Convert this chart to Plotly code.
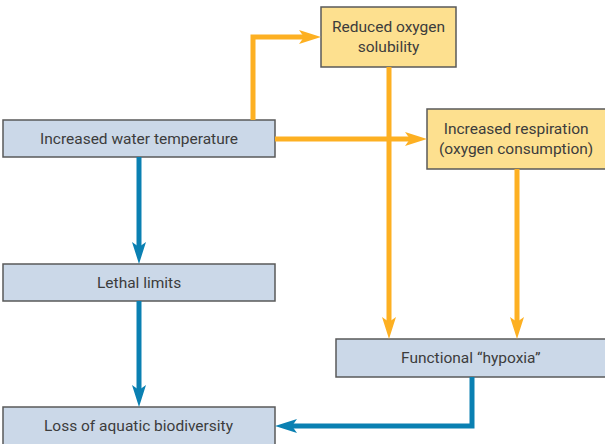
import plotly.graph_objects as go

# box labels and their geometry (pixel units, y measured down from the top)
labels = ["Increased water temperature", "Reduced oxygen<br>solubility",
          "Increased respiration<br>(oxygen consumption)", "Lethal limits",
          "Functional \u201chypoxia\u201d", "Loss of aquatic biodiversity"]
box_x0 = [3, 321, 427, 3, 336, 3]
box_x1 = [275, 456, 607, 275, 607, 275]
box_y0 = [120, 7, 109, 264, 339, 407]
box_y1 = [157, 67, 169, 301, 377, 446]
box_kind = ["blue", "yellow", "yellow", "blue", "blue", "blue"]

# connectors: list of polyline points, last point is the arrow tip
arrows = [
    ("orange", [(253, 120), (253, 37), (321, 37)]),
    ("orange", [(275, 139), (427, 139)]),
    ("orange", [(389, 67), (389, 339)]),
    ("orange", [(517, 169), (517, 339)]),
    ("blue", [(139, 157), (139, 264)]),
    ("blue", [(139, 301), (139, 407)]),
    ("blue", [(472, 377), (472, 426), (275, 426)]),
]

fills = {"blue": "#cbd8e8", "yellow": "#fde08f"}
strokes = {"orange": "#fdb022", "blue": "#0a80b2"}

fig = go.Figure()
shapes = []
annotations = []

for lab, x0, x1, y0, y1, k in zip(labels, box_x0, box_x1, box_y0, box_y1, box_kind):
    shapes.append(dict(type="rect", x0=x0, x1=x1, y0=y0, y1=y1,
                       fillcolor=fills[k], line=dict(color="#5a5a5a", width=1.5), layer="below"))
    annotations.append(dict(x=(x0 + min(x1, 605)) / 2, y=(y0 + min(y1, 444)) / 2, text=lab,
                            showarrow=False, xanchor="center", yanchor="middle",
                            font=dict(family="Roboto, sans-serif", size=15.5, color="#3c3c3c")))

head_len, head_half, notch = 22, 7, 5
for col, pts in arrows:
    (xa, ya), (xb, yb) = pts[-2], pts[-1]
    dx, dy = xb - xa, yb - ya
    L = (dx * dx + dy * dy) ** 0.5
    ux, uy = dx / L, dy / L
    px, py = -uy, ux
    # line stops inside the arrowhead
    line_pts = pts[:-1] + [(xb - ux * (head_len - notch - 1), yb - uy * (head_len - notch - 1))]
    path = "M " + " L ".join(f"{x},{y}" for x, y in line_pts)
    shapes.append(dict(type="path", path=path, line=dict(color=strokes[col], width=5),
                       fillcolor="rgba(0,0,0,0)"))
    bx, by = xb - ux * head_len, yb - uy * head_len
    nx, ny = xb - ux * (head_len - notch), yb - uy * (head_len - notch)
    head = (f"M {xb},{yb} L {bx + px * head_half},{by + py * head_half} "
            f"L {nx},{ny} L {bx - px * head_half},{by - py * head_half} Z")
    shapes.append(dict(type="path", path=head, fillcolor=strokes[col], line=dict(width=0)))

fig.add_trace(go.Scatter(x=[0, 605], y=[0, 444], mode="markers",
                         marker=dict(opacity=0), hoverinfo="skip", showlegend=False))

fig.update_layout(width=605, height=444, margin=dict(l=0, r=0, t=0, b=0),
                  paper_bgcolor="white", plot_bgcolor="white",
                  shapes=shapes, annotations=annotations,
                  xaxis=dict(range=[0, 605], visible=False, fixedrange=True),
                  yaxis=dict(range=[444, 0], visible=False, fixedrange=True))

fig.write_html("out.html", config={"displayModeBar": False},
               post_script="document.body.style.margin='0';document.body.style.overflow='hidden';")
